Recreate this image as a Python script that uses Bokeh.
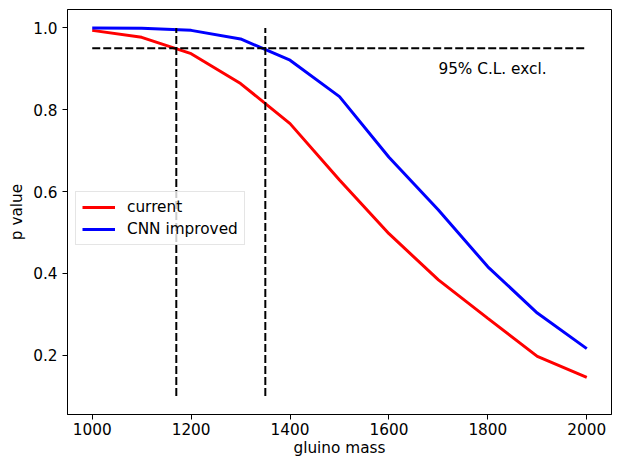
from bokeh.plotting import figure
from bokeh.models import Range1d, FixedTicker, PrintfTickFormatter, Legend, LegendItem, Label
from bokeh.embed import file_html
from bokeh.resources import INLINE

# data
mass = [1000, 1100, 1200, 1300, 1400, 1500, 1600, 1700, 1800, 1900, 2000]
p_current = [0.994, 0.977, 0.937, 0.864, 0.766, 0.628, 0.497, 0.384, 0.290, 0.197, 0.146]
p_cnn = [1.000, 0.999, 0.994, 0.973, 0.921, 0.832, 0.684, 0.555, 0.416, 0.303, 0.216]
cl_level = 0.95
cl_x = [1000, 2000]
limit_current = 1170
limit_cnn = 1350
vline_y = [0.1, 1.0]
x_ticks = [1000, 1200, 1400, 1600, 1800, 2000]
y_ticks = [0.2, 0.4, 0.6, 0.8, 1.0]
cl_text = "95% C.L. excl."
cl_text_pos = (1700, 0.9)

FONT = "DejaVu Sans"
FS = "15.3px"

p = figure(width=612, height=459, output_backend="svg", toolbar_location=None,
           x_range=Range1d(950, 2050), y_range=Range1d(0.055, 1.045),
           min_border_left=67, min_border_right=1, min_border_top=9, min_border_bottom=44)

p.background_fill_color = "white"
p.border_fill_color = "white"
p.outline_line_color = "black"
p.outline_line_width = 1
p.xgrid.visible = False
p.ygrid.visible = False

for ax in (p.xaxis[0], p.yaxis[0]):
    ax.axis_line_color = "black"
    ax.axis_line_width = 1
    ax.major_tick_line_color = "black"
    ax.major_tick_line_width = 1
    ax.major_tick_out = 5
    ax.major_tick_in = 0
    ax.minor_tick_line_color = None
    ax.major_label_text_font = FONT
    ax.major_label_text_font_size = FS
    ax.major_label_text_color = "black"
    ax.axis_label_text_font = FONT
    ax.axis_label_text_font_size = FS
    ax.axis_label_text_font_style = "normal"
    ax.axis_label_text_color = "black"

p.xaxis.ticker = FixedTicker(ticks=x_ticks)
p.yaxis.ticker = FixedTicker(ticks=y_ticks)
p.xaxis.formatter = PrintfTickFormatter(format="%d")
p.yaxis.formatter = PrintfTickFormatter(format="%.1f")
p.xaxis.axis_label = "gluino mass"
p.yaxis.axis_label = "p value"
p.xaxis.major_label_standoff = 3
p.xaxis.axis_label_standoff = 1
p.yaxis.major_label_standoff = 5
p.yaxis.axis_label_standoff = 4

r_cur = p.line(mass, p_current, line_color="#ff0000", line_width=3)
r_cnn = p.line(mass, p_cnn, line_color="#0000ff", line_width=3)

p.line(cl_x, [cl_level, cl_level], line_color="black", line_width=2, line_dash="8 3")
p.line([limit_current, limit_current], vline_y, line_color="black", line_width=2, line_dash="8 3")
p.line([limit_cnn, limit_cnn], vline_y, line_color="black", line_width=2, line_dash="8 3")

lab = Label(x=cl_text_pos[0], y=cl_text_pos[1], text=cl_text, text_font=FONT,
            text_font_size=FS, text_color="black", text_baseline="alphabetic", text_align="left")
p.add_layout(lab)

legend = Legend(items=[LegendItem(label="current", renderers=[r_cur]),
                       LegendItem(label="CNN improved", renderers=[r_cnn])],
                location=(8, 169))
legend.label_text_font = FONT
legend.label_text_font_size = FS
legend.label_text_color = "black"
legend.border_line_color = "#cccccc"
legend.border_line_width = 1
legend.background_fill_color = "white"
legend.background_fill_alpha = 0.8
legend.glyph_width = 33
legend.glyph_height = 16
legend.label_height = 16
legend.label_standoff = 12
legend.spacing = 4
legend.padding = 6
legend.margin = 0
p.add_layout(legend)

open("out.html", "w").write(file_html(p, INLINE))
